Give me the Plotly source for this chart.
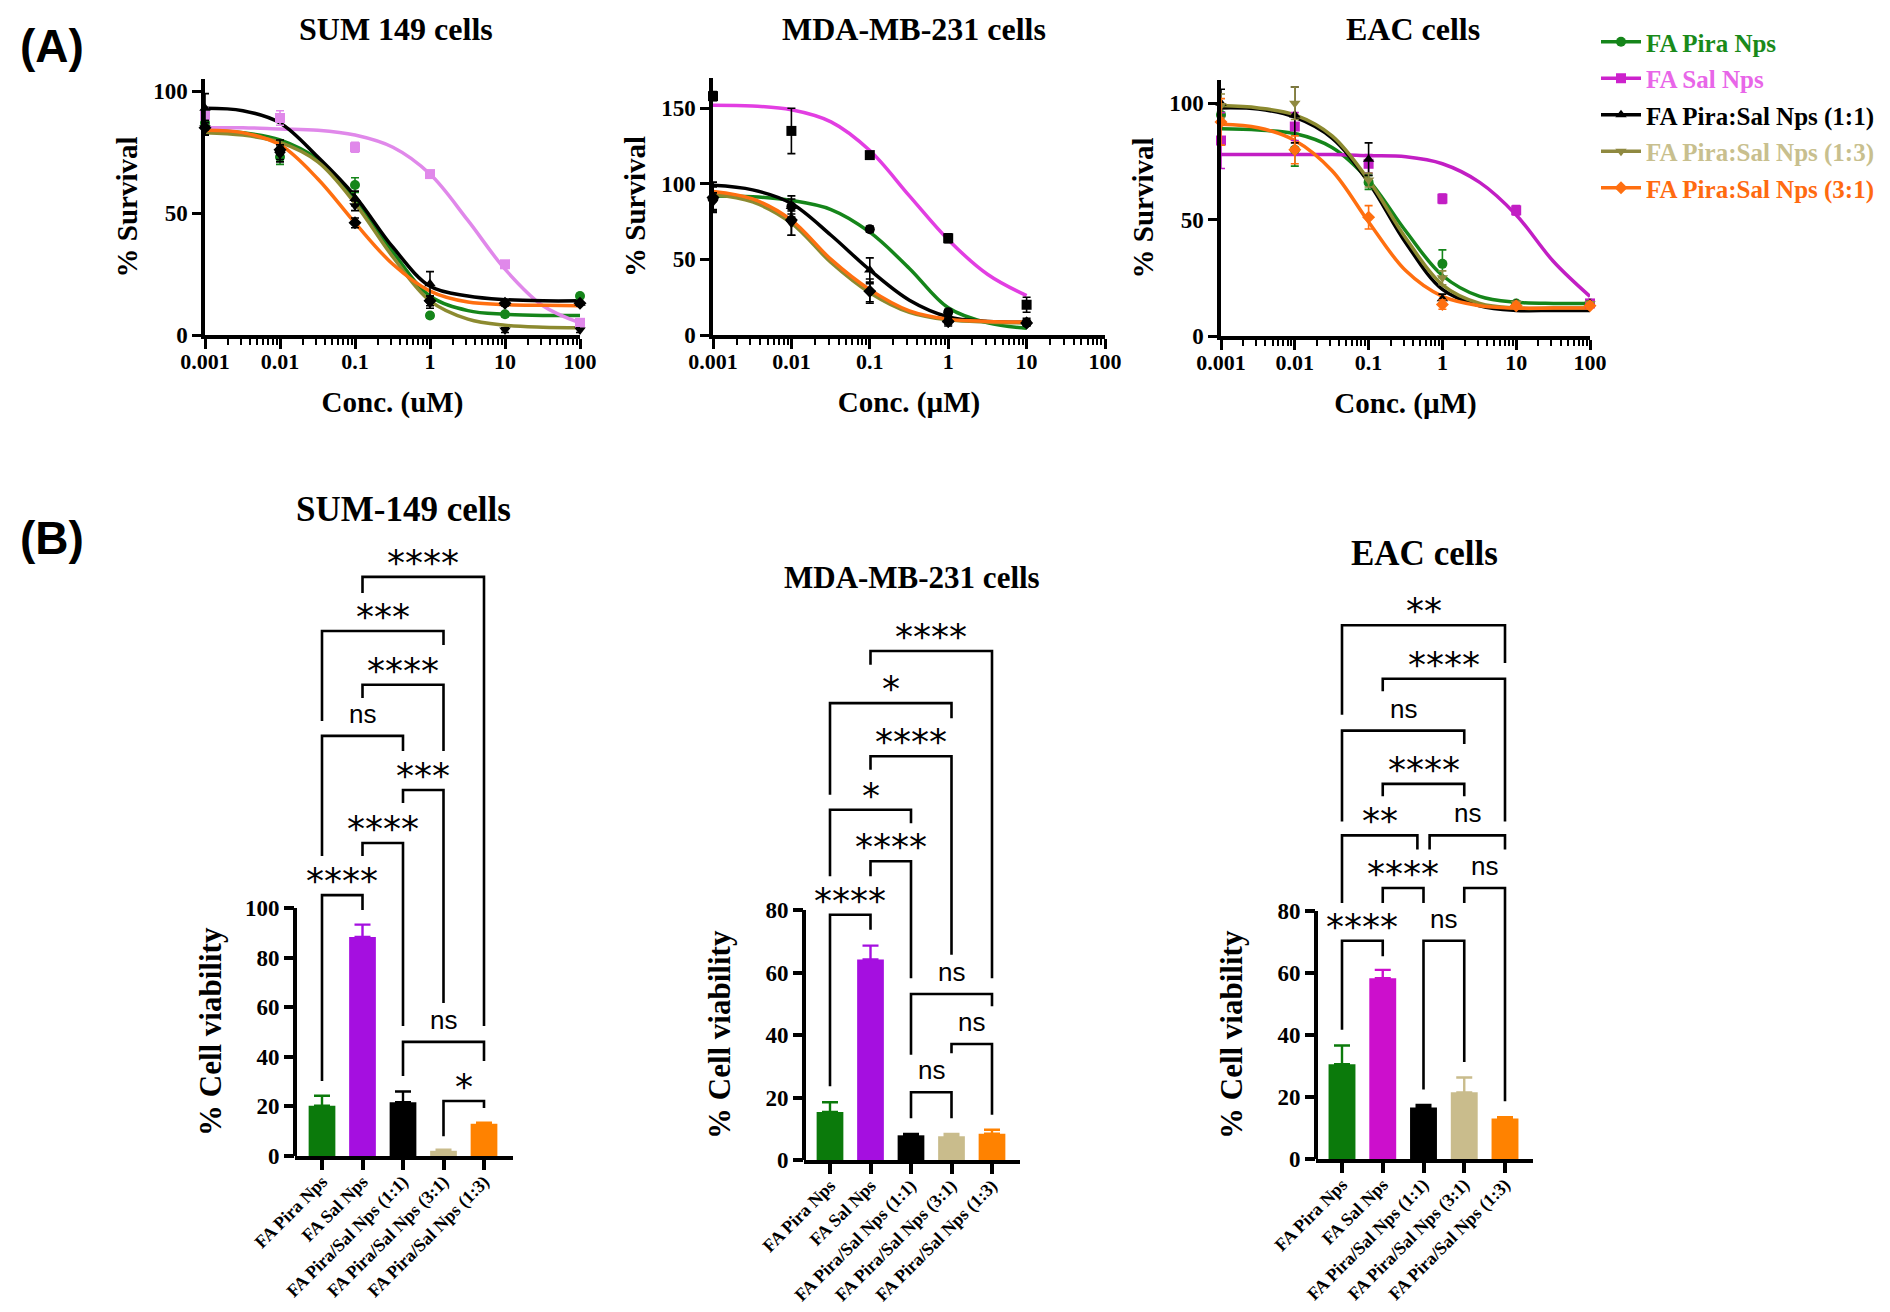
import plotly.graph_objects as go

W, H = 1890, 1312

# ---------------- data: dose-response (panel A) ----------------
SERIES = ["FA Pira Nps", "FA Sal Nps", "FA Pira:Sal Nps (1:1)",
          "FA Pira:Sal Nps (1:3)", "FA Pira:Sal Nps (3:1)"]
CONC = [0.001, 0.01, 0.1, 1, 10, 100]
CONC_MDA = [0.001, 0.01, 0.1, 1, 10]
FIT_X = [0.001, 0.0032, 0.01, 0.032, 0.1, 0.32, 1, 3.2, 10, 32, 100]
FIT_X_MDA = [0.001, 0.0032, 0.01, 0.032, 0.1, 0.32, 1, 3.2, 10]

SUM_PTS = [[87, 73, 61.5, 8, 8.5, 16],
           [90, 89, 77, 66, 29, 5],
           [93, 76, 56, 21, 13, 13],
           [85, 74, 53, 13, 2, 2],
           [85, 76, 46, 14, 13, 13]]
SUM_ERR = [[3, 3, 3, 1, 1, 1],
           [3, 3, 2, 1, 1, 1],
           [6, 4, 3, 5, 1, 1],
           [3, 3, 2, 2, 1, 1],
           [3, 2, 2, 2, 1, 1]]
SUM_FIT = [[84, 83, 80, 72, 56, 34, 16, 10, 8.5, 8, 8],
           [85, 85, 84.5, 84, 82, 77, 66, 47, 27, 12, 5],
           [93, 92, 87, 73, 57, 36, 20, 16, 14.5, 14, 14],
           [83, 82, 79, 71, 54, 32, 14, 6.5, 4, 3.2, 3],
           [84, 83, 78, 64, 46, 29, 18, 13.5, 12.5, 12.2, 12]]

MDA_PTS = [[90, 85, 70, 15, 8],
           [158, 135, 119, 64, 20],
           [92, 85, 43, 10, 9],
           [88, 74, 28, 8, 7],
           [91, 76, 29, 9, 8]]
MDA_ERR = [[8, 7, 2, 2, 1],
           [3, 15, 2, 3, 5],
           [9, 5, 8, 2, 2],
           [6, 8, 6, 2, 1],
           [10, 10, 8, 2, 1]]
MDA_FIT = [[92, 91.5, 89, 83, 68, 44, 18, 8, 4.5],
           [152, 151.5, 149, 141, 122, 92, 63, 40, 26],
           [99, 96, 87, 66, 43, 23, 12, 9, 8.5],
           [93, 88, 74, 48, 28, 15, 10, 8.5, 8],
           [95, 90, 76, 50, 30, 16, 10.5, 9, 8.5]]

EAC_PTS = [[95, 80, 66, 31, 14, 14],
           [84, 90, 74, 59, 54, 14],
           [100, 95, 76, 16, 14, 14],
           [99, 100, 67, 25, 14, 14],
           [92, 80, 51, 13.5, 13, 13]]
EAC_ERR = [[4, 7, 3, 6, 1, 1],
           [12, 6, 4, 2, 2, 1],
           [6, 12, 7, 2, 1, 1],
           [5, 7, 3, 3, 1, 1],
           [10, 6, 5, 2, 1, 1]]
EAC_FIT = [[89, 88.5, 87, 81, 67, 45, 26, 17, 14.5, 14, 14],
           [78, 78, 78, 78, 77.5, 77, 74, 66, 52, 32, 17],
           [98, 97.5, 94, 85, 66, 40, 20, 13, 11, 11, 11],
           [99, 98, 95, 86, 67, 42, 22, 14, 12, 12, 12],
           [91, 89.5, 84, 71, 49, 28, 17, 13, 12, 12, 12]]

# ---------------- data: viability bars (panel B) ----------------
BAR_LABELS = ["FA Pira Nps", "FA Sal Nps", "FA Pira/Sal Nps (1:1)",
              "FA Pira/Sal Nps (3:1)", "FA Pira/Sal Nps (1:3)"]
SUM_BAR = [20.3, 88.3, 21.7, 2.1, 13.0]
SUM_BAR_ERR = [4.0, 5.0, 4.3, 0.4, 0.4]
MDA_BAR = [15.4, 64.2, 7.9, 7.6, 8.4]
MDA_BAR_ERR = [3.1, 4.4, 0.4, 0.7, 1.3]
EAC_BAR = [30.6, 58.3, 16.6, 21.5, 13.1]
EAC_BAR_ERR = [6.0, 2.7, 0.8, 4.8, 0.4]

# comparisons: (bar a, bar b, bracket height, left leg end, right leg end, label)
SUM_SIG = [(0, 1, 105.2, 30.2, 99.2, "****"), (1, 2, 126.2, 121, 52.4, "****"),
           (2, 3, 147.6, 142.3, 61.7, "***"), (0, 2, 169.4, 121, 163.3, "ns"),
           (1, 3, 190, 184.7, 163.3, "****"), (0, 3, 211.7, 175.4, 206, "***"),
           (1, 4, 233.5, 227, 52.4, "****"), (2, 4, 46, 32.3, 38.3, "ns"),
           (3, 4, 22.2, 8, 19.4, "*")]
MDA_SIG = [(1, 4, 162.9, 158.5, 58.2, "****"), (0, 3, 146.2, 116.9, 141.4, "*"),
           (1, 3, 129.2, 124.9, 65.7, "****"), (0, 2, 112.1, 90.8, 107.8, "*"),
           (1, 2, 95.6, 90.8, 58.2, "****"), (0, 1, 78.5, 23.6, 73.7, "****"),
           (2, 4, 53.1, 33.7, 49.2, "ns"), (3, 4, 37.1, 34.2, 14.5, "ns"),
           (2, 3, 21.7, 13.4, 13.4, "ns")]
EAC_SIG = [(0, 4, 172.2, 143.3, 160, "**"), (1, 4, 154.9, 150.9, 108.9, "****"),
           (0, 3, 138.2, 108.9, 133.9, "ns"), (1, 3, 121, 117, 117, "****"),
           (0, 2, 104.4, 82.6, 99.8, "**"), (2, 4, 104.4, 99.8, 99.8, "ns"),
           (1, 2, 87.4, 82.6, 82.6, "****"), (3, 4, 87.4, 82.6, 18.6, "ns"),
           (0, 1, 70.4, 41.7, 65.4, "****"), (2, 3, 70.4, 22.4, 31.3, "ns")]

# ---------------- styles ----------------
SERIF = "Liberation Serif"
SANS = "Liberation Sans"
LINE_COL = ["#15851a", "#e07ee8", "#000000", "#8c8a30", "#ff6f10"]
SAL_COL = {"sum": "#e088ea", "mda": "#e23ee2", "eac": "#c21ec4"}
SYMBOLS = ["circle", "square", "triangle-up", "triangle-down", "diamond"]
LEG_TEXT = ["#1a8a1a", "#e866e8", "#000000", "#c8bf8e", "#ff6a10"]
LEG_SYM = ["#15851a", "#cc22cc", "#000000", "#8f8940", "#ff6f10"]
BAR_COL = ["#0b7a0b", "#a50fe0", "#000000", "#c9bc8c", "#ff8200"]


def dx(px):
    return px / W


def dy(py):
    return 1 - py / H


def label(x, y, text, size, family=SERIF, angle=0):
    fig.add_annotation(x=dx(x), y=dy(y), xref="paper", yref="paper", text=text,
                       showarrow=False, xanchor="center", yanchor="middle", textangle=angle,
                       font=dict(family=family, size=size, color="black"))


fig = go.Figure()

# ---------------- panel A ----------------
TOP = [  # key, axis idx, points, err, fit, conc, fitx, x-left, x-right, y0px, ytop px, ymax, ticks, xtitle, title, title x
    ("sum", 1, SUM_PTS, SUM_ERR, SUM_FIT, CONC, FIT_X, 197, 572, 327, 71, 105,
     [0, 50, 100], "Conc. (uM)", "SUM 149 cells", 388),
    ("mda", 2, MDA_PTS, MDA_ERR, MDA_FIT, CONC_MDA, FIT_X_MDA, 705, 1097, 327, 70, 170,
     [0, 50, 100, 150], "Conc. (µM)", "MDA-MB-231 cells", 906),
    ("eac", 3, EAC_PTS, EAC_ERR, EAC_FIT, CONC, FIT_X, 1213, 1582, 328, 72, 110,
     [0, 50, 100], "Conc. (µM)", "EAC cells", 1405),
]
MARKER_COL = {
    "sum": ["#15851a", "#e088ea", "#000000", "#000000", "#000000"],
    "mda": ["#000000"] * 5,
    "eac": ["#15851a", "#c21ec4", "#000000", "#8f8940", "#ff6f10"],
}

tickfont = dict(family=SERIF, size=23, color="black", weight="bold")

for key, n, pts, err, fit, conc, fitx, xl, xr, y0, yt, ymax, yt_vals, xtitle, title, tx in TOP:
    xa, ya = f"x{n}", f"y{n}"
    for s in range(5):
        col = SAL_COL[key] if s == 1 else LINE_COL[s]
        fig.add_trace(go.Scatter(
            x=fitx, y=fit[s], mode="lines", line=dict(color=col, width=3.5, shape="spline"),
            xaxis=xa, yaxis=ya, showlegend=False, hoverinfo="skip"))
    for s in range(5):
        mc = MARKER_COL[key][s]
        fig.add_trace(go.Scatter(
            x=conc, y=pts[s], mode="markers",
            marker=dict(symbol=SYMBOLS[s], size=10, color=mc),
            error_y=dict(type="data", array=err[s], color=mc, thickness=1.6, width=4),
            xaxis=xa, yaxis=ya, showlegend=False, cliponaxis=False, name=SERIES[s]))
    axn = "" if n == 1 else str(n)
    fig.update_layout({
        f"xaxis{axn}": dict(
            type="log", range=[-3, 2], domain=[dx(xl), dx(xr)], anchor=ya,
            showline=True, linewidth=3.5, linecolor="black", mirror=False,
            showgrid=False, zeroline=False,
            tickvals=[0.001, 0.01, 0.1, 1, 10, 100],
            ticktext=["0.001", "0.01", "0.1", "1", "10", "100"],
            ticks="outside", ticklen=10, tickwidth=3, tickcolor="black",
            ticklabelstandoff=-6,
            minor=dict(ticks="outside", ticklen=6, tickwidth=2, tickcolor="black", dtick="D1"),
            tickfont=dict(family=SERIF, size=22, color="black", weight="bold"),
            title=dict(text=f"<b>{xtitle}</b>", font=dict(family=SERIF, size=29, color="black"),
                       standoff=20)),
        f"yaxis{axn}": dict(
            range=[0, ymax], domain=[dy(y0), dy(yt)], anchor=xa,
            showline=True, linewidth=3.5, linecolor="black",
            showgrid=False, zeroline=False, tickvals=yt_vals,
            ticks="outside", ticklen=9, tickwidth=3, tickcolor="black",
            tickfont=tickfont,
            title=dict(text="<b>% Survival</b>", font=dict(family=SERIF, size=29, color="black"),
                       standoff=8)),
    })
    label(tx, 21, f"<b>{title}</b>", 32)

# legend-only traces
for s in range(5):
    fig.add_trace(go.Scatter(
        x=[None], y=[None], mode="lines+markers", xaxis="x1", yaxis="y1",
        line=dict(color=LEG_SYM[s], width=3.5),
        marker=dict(symbol=SYMBOLS[s], size=10, color=LEG_SYM[s]),
        name=f"<b><span style='color:{LEG_TEXT[s]}'>{SERIES[s]}</span></b>",
        legendgroup=f"g{s}"))

# ---------------- panel B ----------------
BOTTOM = [  # key, axis idx, values, err, sigs, x-axis px, first bar px, bar step, right px, y0px, px/unit, ymax, ytop tick, title, title y, title size
    ("sum", 4, SUM_BAR, SUM_BAR_ERR, SUM_SIG, 287, 314, 40.5, 505, 1148, 2.48, 245, 100,
     "SUM-149 cells", 502, 35),
    ("mda", 5, MDA_BAR, MDA_BAR_ERR, MDA_SIG, 796, 822, 40.5, 1012, 1152, 3.125, 180, 80,
     "MDA-MB-231 cells", 569, 31),
    ("eac", 6, EAC_BAR, EAC_BAR_ERR, EAC_SIG, 1308, 1334, 40.75, 1525, 1151, 3.1, 190, 80,
     "EAC cells", 545, 35),
]
for key, n, vals, errs, sigs, ax_px, b0, step, right, y0, ppu, ymax, ytop, title, ty, tsize in BOTTOM:
    xa, ya = f"x{n}", f"y{n}"
    cols = list(BAR_COL)
    if key == "eac":
        cols[1] = "#cc0fcc"
    fig.add_trace(go.Bar(
        x=list(range(5)), y=vals, width=0.66, marker=dict(color=cols, line=dict(width=0)),
        xaxis=xa, yaxis=ya, showlegend=False))
    # upper error bars in the bar colour
    for b in range(5):
        fig.add_trace(go.Scatter(
            x=[b], y=[vals[b]], mode="markers", marker=dict(size=1, color=cols[b], opacity=0),
            error_y=dict(type="data", array=[errs[b]], arrayminus=[0], symmetric=False,
                         color=cols[b], thickness=2.4, width=8),
            xaxis=xa, yaxis=ya, showlegend=False, hoverinfo="skip"))
    xmin = -(b0 - ax_px) / step
    xmax = (right - b0) / step
    top_px = y0 - ymax * ppu
    fig.update_layout({
        f"xaxis{n}": dict(
            range=[xmin, xmax], domain=[dx(ax_px), dx(right)], anchor=ya,
            showline=True, linewidth=4, linecolor="black", showgrid=False, zeroline=False,
            tickvals=list(range(5)), ticktext=BAR_LABELS, tickangle=-45,
            ticks="outside", ticklen=10, tickwidth=4, tickcolor="black",
            ticklabelstandoff=-6,
            tickfont=dict(family=SERIF, size=18, color="black", weight="bold")),
        f"yaxis{n}": dict(
            range=[0, ymax], domain=[dy(y0), dy(top_px)], anchor=xa,
            showline=False, showgrid=False, zeroline=False,
            tickvals=list(range(0, ytop + 1, 20)),
            ticks="outside", ticklen=10, tickwidth=3.5, tickcolor="black",
            tickfont=tickfont),
    })
    fig.add_shape(type="line", xref=f"{xa} domain", yref=ya, x0=0, x1=0, y0=0, y1=ytop,
                  line=dict(color="black", width=4))
    label(ax_px - 85, y0 - ytop * ppu / 2, "<b>% Cell viability</b>", 31, angle=-90)
    label(ax_px + 108, ty, f"<b>{title}</b>", tsize)
    # significance brackets
    for i, j, h, lb, rb, txt in sigs:
        x0, x1 = i, j
        for i2, j2, h2, *_ in sigs:
            if h2 == h and (i2, j2) != (i, j):
                if j2 == i:
                    x0 += 0.15
                if i2 == j:
                    x1 -= 0.15
        fig.add_shape(type="path", xref=xa, yref=ya,
                      path=f"M {x0},{lb} L {x0},{h} L {x1},{h} L {x1},{rb}",
                      line=dict(color="black", width=2.6))
        star = txt != "ns"
        fig.add_annotation(x=(x0 + x1) / 2, y=h, xref=xa, yref=ya, text=txt, showarrow=False,
                           xanchor="center", yanchor="bottom", yshift=-8 if star else 5,
                           font=dict(family="DejaVu Sans" if star else SANS,
                                     size=36 if star else 26, color="black"))

# panel letters
label(44, 38, "<b>(A)</b>", 46, family=SANS)
label(44, 530, "<b>(B)</b>", 46, family=SANS)

fig.update_layout(
    width=W, height=H, margin=dict(l=0, r=0, t=0, b=0, autoexpand=False),
    paper_bgcolor="white", plot_bgcolor="white",
    legend=dict(x=dx(1588), y=dy(11), xanchor="left", yanchor="top",
                font=dict(family=SERIF, size=25, color="black"),
                traceorder="grouped", tracegroupgap=1, itemwidth=40,
                bgcolor="rgba(0,0,0,0)"),
)

fig.write_html("out.html")
